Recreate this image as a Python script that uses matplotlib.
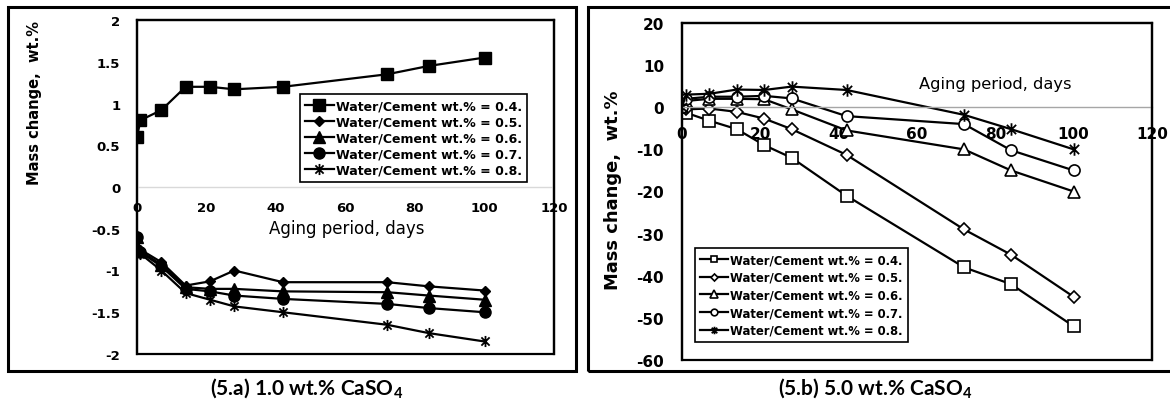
import matplotlib
matplotlib.use("Agg")
import matplotlib.pyplot as plt
from matplotlib.patches import Rectangle
from matplotlib.path import Path
from matplotlib.ticker import FuncFormatter

plt.rcParams['axes.unicode_minus'] = False
plt.rcParams['font.weight'] = 'bold'
plt.rcParams['mathtext.fontset'] = 'custom'
plt.rcParams['mathtext.rm'] = 'Lato:bold'
plt.rcParams['mathtext.bf'] = 'Lato:bold'

# ageing days
days = [0, 1, 7, 14, 21, 28, 42, 72, 84, 100]
series_labels = ['Water/Cement wt.% = 0.4.', 'Water/Cement wt.% = 0.5.',
                 'Water/Cement wt.% = 0.6.', 'Water/Cement wt.% = 0.7.',
                 'Water/Cement wt.% = 0.8.']

# (5.a) 1.0 wt.% CaSO4 - mass change, wt.%
a_wc04 = [0.6, 0.8, 0.92, 1.2, 1.2, 1.17, 1.2, 1.35, 1.45, 1.55]
a_wc05 = [-0.6, -0.75, -0.9, -1.18, -1.13, -1.0, -1.14, -1.14, -1.19, -1.24]
a_wc06 = [-0.6, -0.77, -0.93, -1.2, -1.22, -1.22, -1.25, -1.26, -1.3, -1.35]
a_wc07 = [-0.6, -0.78, -0.95, -1.22, -1.25, -1.3, -1.34, -1.4, -1.45, -1.5]
a_wc08 = [-0.6, -0.8, -1.0, -1.27, -1.35, -1.43, -1.5, -1.65, -1.75, -1.85]

# (5.b) 5.0 wt.% CaSO4 - mass change, wt.%
b_wc04 = [-0.5, -1.3, -3.2, -5.2, -9, -12, -21, -38, -42, -52]
b_wc05 = [0, -0.5, -0.3, -1.1, -2.7, -5.2, -11.3, -29, -35, -45]
b_wc06 = [0, 1.5, 2, 2, 1.9, -0.5, -5.5, -10, -15, -20]
b_wc07 = [0, 2, 2.5, 2.5, 2.7, 2.1, -2.1, -4, -10.2, -15]
b_wc08 = [0, 3, 3.2, 4.2, 4.1, 4.9, 4.1, -1.8, -5.2, -10]

# excel style "star" marker: an x with a vertical bar
star = Path([(-1, -1), (1, 1), (-1, 1), (1, -1), (0, -1.35), (0, 1.35)],
            [Path.MOVETO, Path.LINETO, Path.MOVETO, Path.LINETO,
             Path.MOVETO, Path.LINETO])

fig = plt.figure(figsize=(11.7, 4.06), dpi=100)

# outer frames around both panels
fig.add_artist(Rectangle((8/1170, 1-372/406), 568/1170, 364/406,
                         transform=fig.transFigure, fill=False,
                         lw=2.2, ec='black'))
fig.add_artist(Rectangle((588/1170, 1-372/406), 600/1170, 364/406,
                         transform=fig.transFigure, fill=False,
                         lw=2.2, ec='black', clip_on=False))

fmt = FuncFormatter(lambda v, p: f"{v:g}")


def style_axes(ax, zero_color, xpad, ypad, fs):
    for s in ['top', 'right', 'left']:
        ax.spines[s].set_linewidth(1.6)
    ax.spines['bottom'].set_position(('data', 0))
    ax.spines['bottom'].set_color(zero_color)
    ax.spines['bottom'].set_linewidth(1.0)
    ax.add_patch(Rectangle((0, 0), 1, 1, transform=ax.transAxes, fill=False,
                           lw=1.6, ec='black', clip_on=False, zorder=5))
    ax.tick_params(axis='x', length=0, pad=xpad, labelsize=fs)
    ax.tick_params(axis='y', length=0, pad=ypad, labelsize=fs)
    ax.yaxis.set_major_formatter(fmt)
    ax.xaxis.set_major_formatter(fmt)


# ---- left panel
ax1 = fig.add_axes([137/1170, 1-355/406, 417/1170, 334/406])
kw = dict(color='black', lw=1.6, mec='black', mfc='black')
ax1.plot(days, a_wc04, marker='s', ms=8, label=series_labels[0], **kw)
ax1.plot(days, a_wc05, marker='D', ms=5.5, label=series_labels[1], **kw)
ax1.plot(days, a_wc06, marker='^', ms=8, label=series_labels[2], **kw)
ax1.plot(days, a_wc07, marker='o', ms=8, label=series_labels[3], **kw)
ax1.plot(days, a_wc08, marker=star, ms=8, mew=1.3, label=series_labels[4],
         color='black', lw=1.6, mec='black', mfc='none')
ax1.set_xlim(0, 120)
ax1.set_ylim(-2, 2)
ax1.set_xticks(range(0, 121, 20))
ax1.set_yticks([-2, -1.5, -1, -0.5, 0, 0.5, 1, 1.5, 2])
style_axes(ax1, '#d9d9d9', 10, 12, 9.5)
ax1.set_xlabel('Aging period, days', fontsize=12, fontweight='normal',
               va='top')
ax1.xaxis.set_label_coords(0.504, 0.404)
ax1.set_ylabel('Mass change,  wt.%', fontsize=10.5, fontweight='bold',
               va='center')
ax1.yaxis.set_label_coords(-0.247, 0.754)
leg1 = ax1.legend(loc='upper left', bbox_to_anchor=(0.391, 0.778),
                  borderaxespad=0, fancybox=False, framealpha=1,
                  edgecolor='black', handlelength=2.3, handletextpad=0.15,
                  labelspacing=0.25, borderpad=0.4,
                  prop={'weight': 'bold', 'size': 9})
leg1.get_frame().set_linewidth(1.2)

# ---- right panel
ax2 = fig.add_axes([682/1170, 1-361/406, 470/1170, 337/406])
kw = dict(color='black', lw=1.6, mec='black', mfc='white', mew=1.2)
ax2.plot(days, b_wc04, marker='s', ms=8, label=series_labels[0], **kw)
ax2.plot(days, b_wc05, marker='D', ms=6, label=series_labels[1], **kw)
ax2.plot(days, b_wc06, marker='^', ms=9, label=series_labels[2], **kw)
ax2.plot(days, b_wc07, marker='o', ms=8, label=series_labels[3], **kw)
ax2.plot(days, b_wc08, marker=star, ms=9, mew=1.3, label=series_labels[4],
         color='black', lw=1.6, mec='black', mfc='none')
ax2.set_xlim(0, 120)
ax2.set_ylim(-60, 20)
ax2.set_xticks(range(0, 121, 20))
ax2.set_yticks(range(-60, 21, 10))
style_axes(ax2, '#a6a6a6', 13.5, 13, 11)
ax2.set_xlabel('Aging period, days', fontsize=11.7, fontweight='normal',
               va='top')
ax2.xaxis.set_label_coords(0.666, 0.843)
ax2.set_ylabel('Mass change,  wt.%', fontsize=12.9, fontweight='bold',
               va='center')
ax2.yaxis.set_label_coords(-0.147, 0.507)
leg2 = ax2.legend(loc='lower left', bbox_to_anchor=(0.028, 0.053),
                  borderaxespad=0, fancybox=False, framealpha=1,
                  edgecolor='black', handlelength=2.4, handletextpad=0.15,
                  labelspacing=0.4, borderpad=0.45, markerscale=0.6,
                  prop={'weight': 'bold', 'size': 8.4})
leg2.get_frame().set_linewidth(1.2)

# captions
fig.text(307/1170, 1-389/406, r'(5.a) 1.0 wt.% CaSO$_4$', ha='center',
         va='center', fontsize=15, fontweight='bold', family='Lato')
fig.text(875/1170, 1-389/406, r'(5.b) 5.0 wt.% CaSO$_4$', ha='center',
         va='center', fontsize=15, fontweight='bold', family='Lato')

fig.savefig('out.png', dpi=100)
